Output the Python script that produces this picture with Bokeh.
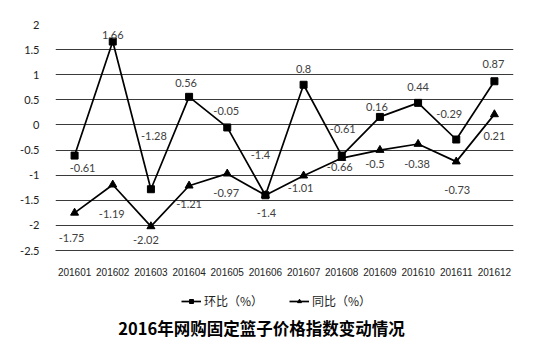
from bokeh.plotting import figure
from bokeh.layouts import column
from bokeh.models import (ColumnDataSource, LabelSet, Legend, LegendItem, FixedTicker,
                          CustomJSTickFormatter, Label)
from bokeh.core.properties import value
from bokeh.embed import file_html
from bokeh.resources import INLINE

months = ["201601", "201602", "201603", "201604", "201605", "201606",
          "201607", "201608", "201609", "201610", "201611", "201612"]
huanbi = [-0.61, 1.66, -1.28, 0.56, -0.05, -1.4, 0.8, -0.61, 0.16, 0.44, -0.29, 0.87]
tongbi = [-1.75, -1.19, -2.02, -1.21, -0.97, -1.4, -1.01, -0.66, -0.5, -0.38, -0.73, 0.21]
y_ticks = [-2.5, -2, -1.5, -1, -0.5, 0, 0.5, 1, 1.5, 2]
series_names = ["环比（%）", "同比（%）"]
chart_title = "2016年网购固定篮子价格指数变动情况"

# label offsets in pixels (style only)
hb_dx = [8, 0, 3, -3, -1, -5, 0, 1, -3, 0, -7, -1]
hb_dy = [-12, 7, 53, 14, 16, 40, 16, 27, 10, 16, 26, 17]
tb_dx = [-3, -1, -5, 0, -1, 1, -3, -2, -5, -1, 1, 0]
tb_dy = [-25, -29, -14, -18, -19, -18, -12, -9, -14, -20, -28, -22]

hb_src = ColumnDataSource(dict(x=months, y=huanbi, t=[f"{v:g}" for v in huanbi], dx=hb_dx, dy=hb_dy))
tb_src = ColumnDataSource(dict(x=months, y=tongbi, t=[f"{v:g}" for v in tongbi], dx=tb_dx, dy=tb_dy))

p = figure(width=548, height=280, x_range=months, y_range=(-2.5, 2),
           output_backend="svg", toolbar_location=None,
           min_border_left=55, min_border_right=35, min_border_top=24, min_border_bottom=30)
p.x_range.range_padding = 0
p.outline_line_color = None

p.xgrid.grid_line_color = None
p.ygrid.grid_line_color = "#3a3a3a"
p.ygrid.grid_line_width = 1
p.yaxis.ticker = FixedTicker(ticks=y_ticks)
p.yaxis.formatter = CustomJSTickFormatter(code="return tick.toString();")
p.yaxis.axis_line_color = None
p.yaxis.major_tick_line_color = None
p.yaxis.minor_tick_line_color = None
p.yaxis.major_label_standoff = 10
p.yaxis.major_label_text_font = "Lato"
p.yaxis.major_label_text_font_size = "11px"
p.yaxis.major_label_text_color = "#222222"

p.xaxis.axis_line_color = "#3a3a3a"
p.xaxis.major_tick_line_color = None
p.xaxis.minor_tick_line_color = None
p.xaxis.major_label_standoff = 11
p.xaxis.major_label_text_font = "Liberation Sans"
p.xaxis.major_label_text_font_size = "10px"
p.xaxis.major_label_text_color = "#222222"

p.line("x", "y", source=hb_src, line_color="black", line_width=1.7)
p.scatter("x", "y", source=hb_src, marker="square", size=7, color="black")
p.line("x", "y", source=tb_src, line_color="black", line_width=1.7)
p.scatter("x", "y", source=tb_src, marker="triangle", size=8, color="black")

for src in (hb_src, tb_src):
    p.add_layout(LabelSet(x="x", y="y", text="t", source=src, x_offset="dx", y_offset="dy",
                          text_align="center", text_baseline="middle",
                          text_font=value("Lato"), text_font_size=value("11px"),
                          text_color="#404040"))

# lower panel: legend and title (frame aligned with the chart above)
p2 = figure(width=548, height=76, x_range=(0, 1), y_range=(0, 1),
            output_backend="svg", toolbar_location=None,
            x_axis_location=None, y_axis_location=None, min_border=0)
p2.outline_line_color = None
p2.grid.grid_line_color = None
nan = float("nan")
e = ColumnDataSource(dict(x=[nan], y=[nan]))
d1 = p2.line("x", "y", source=e, line_color="black", line_width=1.7)
s1 = p2.scatter("x", "y", source=e, marker="square", size=7, color="black")
d2 = p2.line("x", "y", source=e, line_color="black", line_width=1.7)
s2 = p2.scatter("x", "y", source=e, marker="triangle", size=7, color="black")

legend = Legend(items=[LegendItem(label=series_names[0], renderers=[d1, s1]),
                       LegendItem(label=series_names[1], renderers=[d2, s2])],
                orientation="horizontal", location=(126, 47),
                label_text_font="Noto Sans CJK SC", label_text_font_size="12px",
                label_text_color="#222222", glyph_width=20, glyph_height=10,
                label_standoff=3, spacing=26, padding=2, margin=0,
                background_fill_alpha=0, border_line_color=None)
p2.add_layout(legend, "center")

p2.add_layout(Label(x=206, y=29, x_units="screen", y_units="screen", text=chart_title,
                    text_align="center", text_baseline="middle",
                    text_font="Noto Sans CJK SC", text_font_size="16.5px", text_font_style="bold",
                    text_color="black"))

layout = column(p, p2, spacing=0)
open("out.html", "w").write(file_html(layout, INLINE))
